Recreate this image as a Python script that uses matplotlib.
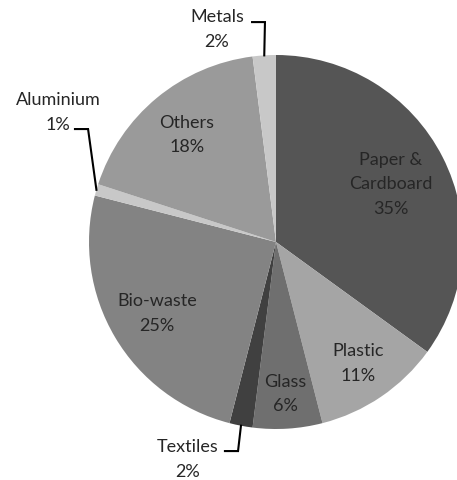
import numpy as np
import matplotlib
matplotlib.use("Agg")
import matplotlib.pyplot as plt

plt.rcParams['font.family'] = ['Lato', 'DejaVu Sans']

categories = ["Paper &\nCardboard", "Plastic", "Glass", "Textiles", "Bio-waste",
              "Aluminium", "Others", "Metals"]
values = [35, 11, 6, 2, 25, 1, 18, 2]
colors = ["#555555", "#a5a5a5", "#6f6f6f", "#404040", "#838383",
          "#c8c8c8", "#9a9a9a", "#c8c8c8"]

W, H = 457, 481
fig = plt.figure(figsize=(W / 100, H / 100), dpi=100)
cx, cy, R = 276, 243, 187
ax = fig.add_axes([(cx - R) / W, (H - cy - R) / H, 2 * R / W, 2 * R / H])
ax.axis('off')

ax.pie(values, colors=colors, startangle=90, counterclock=False, radius=1,
       wedgeprops=dict(linewidth=0), frame=False)
ax.set_xlim(-1, 1)
ax.set_ylim(-1, 1)
ax.set_aspect('auto')

total = sum(values)
cum = np.cumsum([0] + values[:-1])
mids = [(c + v / 2) / total * 360 for c, v in zip(cum, values)]

txt_color = "#262626"
fs = 13
ls = 1.65
inside_r = {0: 0.69, 1: 0.78, 2: 0.81, 4: 0.74, 6: 0.75}
for i, r in inside_r.items():
    a = np.deg2rad(mids[i])
    ax.text(r * np.sin(a), r * np.cos(a), f"{categories[i]}\n{values[i]}%",
            ha='center', va='center', fontsize=fs, color=txt_color,
            linespacing=ls)

# outside labels with elbow leaders
outside = {
    7: dict(text=(-0.316, 1.142), elbow=[(-0.128, 1.176), (-0.059, 1.176)]),
    5: dict(text=(-1.166, 0.698), elbow=[(-1.075, 0.604), (-1.005, 0.604)]),
    3: dict(text=(-0.471, -1.158), elbow=[(-0.273, -1.118), (-0.203, -1.118)]),
}
for i, o in outside.items():
    a = np.deg2rad(mids[i])
    end = (np.sin(a), np.cos(a))
    pts = o['elbow'] + [end]
    ax.plot([p[0] for p in pts], [p[1] for p in pts], color='black',
            lw=1.5, clip_on=False, solid_joinstyle='miter')
    ax.text(o['text'][0], o['text'][1], f"{categories[i]}\n{values[i]}%",
            ha='center', va='center', fontsize=fs, color=txt_color,
            linespacing=ls, clip_on=False)

fig.savefig("out.png", dpi=100, facecolor='white')
